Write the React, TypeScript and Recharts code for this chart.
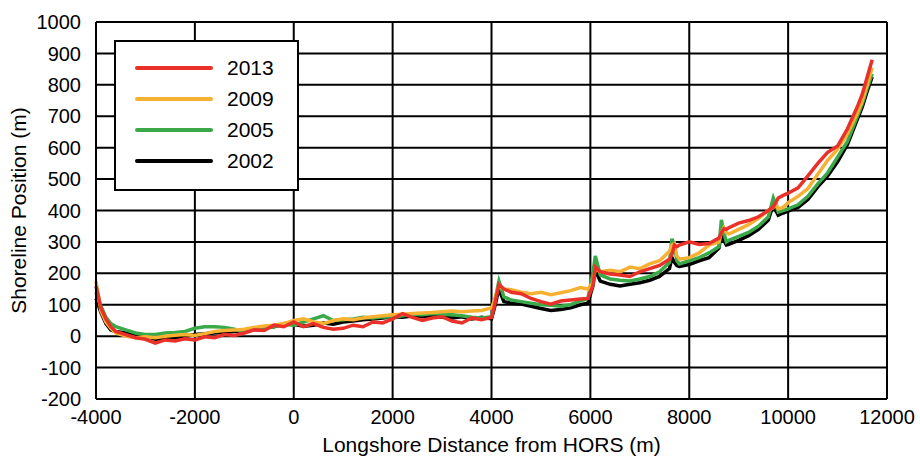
import { LineChart, Line, XAxis, YAxis, CartesianGrid } from 'recharts'

const distance = [
  -4000, -3900, -3800, -3700, -3600, -3400, -3200, -3000, -2800, -2600, -2400, -2200, -2000, -1800, -1600, -1400,
  -1200, -1000, -800, -600, -400, -200, 0, 200, 400, 600, 800, 1000, 1200, 1400, 1600, 1800, 2000, 2200, 2400,
  2600, 2800, 3000, 3200, 3400, 3600, 3800, 4000, 4050, 4150, 4250, 4400, 4600, 4800, 5000, 5200, 5400, 5600,
  5800, 5950, 6050, 6100, 6200, 6400, 6600, 6800, 7000, 7200, 7400, 7600, 7650, 7700, 7750, 7800, 8000, 8200,
  8400, 8600, 8650, 8700, 8750, 8800, 9000, 9200, 9400, 9600, 9700, 9750, 9800, 9900, 10000, 10200, 10400, 10600,
  10800, 11000, 11200, 11400, 11500, 11600, 11700,
]

const y2013 = [
  160, 90, 55, 30, 15, 5, -5, -10, -22, -12, -15, -8, -12, -2, -5, 5,
  2, 10, 20, 18, 35, 30, 45, 30, 40, 28, 22, 25, 35, 30, 45, 42, 55, 72, 60,
  50, 58, 62, 48, 42, 58, 52, 60, 90, 165, 150, 140, 135, 120, 110, 102, 112, 115,
  118, 120, 160, 220, 205, 198, 195, 190, 205, 215, 225, 245, 260, 290, 285, 290, 300, 292,
  295, 312, 330, 342, 340, 345, 360, 368, 380, 400, 412, 425, 440, 448, 455, 472, 510, 550,
  585, 605, 660, 730, 770, 825, 880,
]

const y2009 = [
  175, 80, 45, 25, 10, 0, -5, -2, -5, 0, 3, 5, 2, 8, 15, 18,
  20, 22, 28, 32, 35, 40, 50, 55, 45, 40, 50, 55, 52, 58, 62, 65, 68, 70, 72,
  74, 75, 78, 80, 78, 80, 82, 90, 110, 160, 150, 148, 140, 135, 140, 132, 138, 145,
  155, 150, 170, 215, 205, 210, 205, 220, 215, 230, 240, 270, 290, 295, 255, 245, 250, 265,
  290, 300, 330, 345, 330, 325, 340, 355, 375, 400, 410, 420, 405, 410, 425, 445, 470, 515,
  560, 595, 645, 710, 750, 800, 855,
]

const y2005 = [
  140, 95, 60, 40, 30, 20, 10, 5, 5, 10, 12, 15, 25, 30, 30, 28,
  22, 15, 20, 25, 30, 38, 35, 45, 55, 65, 50, 52, 55, 60, 58, 62, 60, 65, 70,
  68, 72, 70, 68, 65, 60, 58, 62, 100, 175, 125, 115, 110, 105, 100, 98, 95, 100,
  112, 120, 200, 255, 195, 182, 178, 176, 182, 190, 205, 235, 310, 290, 240, 230, 240, 250,
  265, 285, 370, 330, 300, 305, 318, 330, 350, 380, 440, 420, 395, 400, 405, 418, 445, 485,
  520, 570, 620, 700, 740, 790, 835,
]

const y2002 = [
  120, 75, 40, 20, 15, 10, 5, 0, -10, -8, -5, 0, 5, 8, 10, 12,
  15, 18, 25, 28, 30, 40, 38, 32, 35, 42, 38, 45, 48, 52, 55, 58, 62, 60, 64,
  62, 65, 60, 58, 62, 55, 60, 55, 85, 150, 110, 105, 102, 95, 88, 82, 85, 90,
  100, 105, 160, 210, 175, 165, 160, 165, 170, 178, 190, 215, 250, 235, 225, 222, 228, 240,
  250, 280, 330, 305, 290, 292, 305, 320, 340, 370, 420, 400, 385, 392, 398, 410, 435, 475,
  510, 555, 610, 690, 730, 780, 825,
]

const xTicks = [-4000, -2000, 0, 2000, 4000, 6000, 8000, 10000, 12000]
const yTicks = [-200, -100, 0, 100, 200, 300, 400, 500, 600, 700, 800, 900, 1000]

// drawn bottom to top; legend lists them reversed
const series = [
  { key: 'y2002', name: '2002', color: '#000000' },
  { key: 'y2005', name: '2005', color: '#3aa94a' },
  { key: 'y2009', name: '2009', color: '#f7b132' },
  { key: 'y2013', name: '2013', color: '#ea3129' },
]

const data = distance.map((d, i) => ({
  distance: d,
  y2013: y2013[i],
  y2009: y2009[i],
  y2005: y2005[i],
  y2002: y2002[i],
}))

const font = "'Liberation Sans', Arial, sans-serif"

function LegendBox() {
  const items = [...series].reverse()
  return (
    <div
      style={{
        position: 'absolute',
        left: 114,
        top: 40,
        width: 181,
        height: 137,
        border: '2px solid #000',
        background: '#fff',
        fontFamily: font,
        fontSize: 21,
        paddingTop: 10,
      }}
    >
      {items.map((s) => (
        <div key={s.key} style={{ display: 'flex', alignItems: 'center', height: 31 }}>
          <div style={{ width: 78, height: 4, background: s.color, marginLeft: 19, borderRadius: 2 }} />
          <span style={{ marginLeft: 14, color: '#000' }}>{s.name}</span>
        </div>
      ))}
    </div>
  )
}

export default function App() {
  return (
    <div style={{ position: 'absolute', left: 0, top: 0, width: 920, height: 462, background: '#fff' }}>
      <LineChart width={920} height={462} data={data} margin={{ top: 22, right: 33, bottom: 0, left: 0 }}>
        <CartesianGrid stroke="#000" strokeWidth={2} />
        <XAxis
          dataKey="distance"
          type="number"
          domain={[-4000, 12000]}
          ticks={xTicks}
          height={63}
          tickLine={false}
          axisLine={{ stroke: '#000', strokeWidth: 2 }}
          tick={{ fill: '#000', fontFamily: font, fontSize: 20 }}
          tickMargin={5}
          label={{ value: 'Longshore Distance from HORS (m)', position: 'insideBottom', offset: 10, fill: '#000', fontFamily: font, fontSize: 21 }}
        />
        <YAxis
          type="number"
          domain={[-200, 1000]}
          ticks={yTicks}
          width={96}
          tickLine={false}
          axisLine={{ stroke: '#000', strokeWidth: 2 }}
          tick={{ fill: '#000', fontFamily: font, fontSize: 20 }}
          tickMargin={9}
          interval={0}
          label={{ value: 'Shoreline Position (m)', angle: -90, position: 'insideLeft', offset: 19, fill: '#000', fontFamily: font, fontSize: 21, style: { textAnchor: 'middle' } }}
        />
        {series.map((s) => (
          <Line
            key={s.key}
            dataKey={s.key}
            name={s.name}
            stroke={s.color}
            strokeWidth={3.5}
            dot={false}
            type="linear"
            isAnimationActive={false}
          />
        ))}
      </LineChart>
      <LegendBox />
    </div>
  )
}
